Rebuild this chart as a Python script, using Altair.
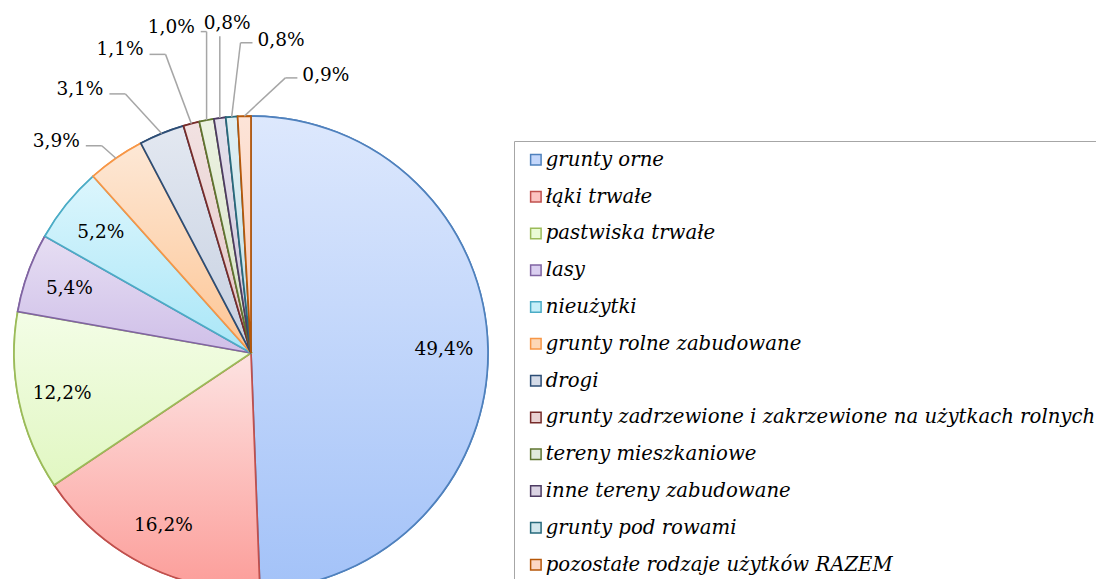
import math
import altair as alt
import pandas as pd
import numpy as np

# ---------------- data ----------------
categories = [
    "grunty orne",
    "łąki trwałe",
    "pastwiska trwałe",
    "lasy",
    "nieużytki",
    "grunty rolne zabudowane",
    "drogi",
    "grunty zadrzewione i zakrzewione na użytkach rolnych",
    "tereny mieszkaniowe",
    "inne tereny zabudowane",
    "grunty pod rowami",
    "pozostałe rodzaje użytków RAZEM",
]
shares = [49.4, 16.2, 12.2, 5.4, 5.2, 3.9, 3.1, 1.1, 1.0, 0.8, 0.8, 0.9]

edge_colors = ["#4F81BD", "#C0504D", "#9BBB59", "#8064A2", "#4BACC6", "#F79646",
               "#2C4D75", "#772C2A", "#5F7530", "#4D3B62", "#276A7C", "#B65708"]
fill_top = ["#dde8fd", "#fde3e2", "#f3fde6", "#e6def3", "#dcf6fd", "#fde8d6",
            "#e3e8f1", "#f2e2e2", "#ecf2e2", "#e5e1ec", "#e0eff3", "#fde4d8"]
fill_bottom = ["#a3c2f8", "#fc9d99", "#e1f7c2", "#cfbfe8", "#a9e6f7", "#fdc594",
               "#c6d0e1", "#e2c4c5", "#d6e2c5", "#cdc5d9", "#c3dfe7", "#fbcab2"]
fill_legend = ["#c4d7fb", "#fcc3c1", "#eafbd4", "#dacff0", "#c6eff9", "#fdd7b6",
               "#d4dbe8", "#ead3d3", "#e1eadb", "#dad3e3", "#d2e7ed", "#fcd7c5"]

# ---------------- layout constants ----------------
W, H = 1088, 571
CX, CY, R = 243, 345, 237
LABEL_FONT = "DejaVu Serif"
LABEL_SIZE = 18.5
INSIDE_R = 193
OUTSIDE_LIMIT = 5.0

labels = [f"{v:.1f}".replace(".", ",") + "%" for v in shares]
vals = np.array(shares, dtype=float)
ends = np.cumsum(vals)
starts = ends - vals
mids = (starts + ends) / 2.0
total = ends[-1]

slices = pd.DataFrame({"cat": categories, "start": starts, "end": ends})


def polar(angle_deg, r):
    a = math.radians(angle_deg)
    return r * math.sin(a), r * math.cos(a)  # y is "up"


def text_w(s):
    w = 0.0
    for ch in s:
        w += 0.636 if ch.isdigit() else (0.318 if ch == "," else 0.95)
    return w * LABEL_SIZE


# inside labels
ins = [i for i, v in enumerate(shares) if v >= OUTSIDE_LIMIT]
in_rows = []
for i in ins:
    x, y = polar(mids[i] / total * 360.0, INSIDE_R)
    in_rows.append({"t": labels[i], "lx": x, "ly": y})
inside_df = pd.DataFrame(in_rows)

# outside labels: fan them out around the group of small slices
outs = [i for i, v in enumerate(shares) if v < OUTSIDE_LIMIT]
n = len(outs)
mid_angles = [mids[i] / total * 360.0 for i in outs]
center_ang = float(np.mean(mid_angles))
step = 9.6
kmax = (n - 1) / 2.0
out_rows, lead_rows = [], []
for j, i in enumerate(outs):
    k = j - kmax
    ang = center_ang + k * step
    rr = R + 51 + 48 * (1 - (k / kmax) ** 2)
    lx, ly = polar(ang, rr)
    out_rows.append({"t": labels[i], "lx": lx, "ly": ly})
    px, py = polar(mid_angles[j], R)
    w = text_w(labels[i])
    if lx + w / 2 < px - 4:
        hx, hy = lx + w / 2 + 6, ly - 5
        ex = hx + min(16.0, max(0.0, px - hx))
        lead_rows += [{"x": hx, "y": hy, "x2": ex, "y2": hy},
                      {"x": ex, "y": hy, "x2": px, "y2": py}]
    elif lx - w / 2 > px + 4:
        hx, hy = lx - w / 2 - 5, ly - 3
        ex = hx - min(12.0, max(0.0, hx - px))
        lead_rows += [{"x": hx, "y": hy, "x2": ex, "y2": hy},
                      {"x": ex, "y": hy, "x2": px, "y2": py}]
    else:
        lead_rows += [{"x": px, "y": ly - 13, "x2": px, "y2": py}]
outside_df = pd.DataFrame(out_rows)
lead_df = pd.DataFrame(lead_rows)

xs = alt.Scale(domain=[-CX, W - CX], nice=False, zero=False)
ys = alt.Scale(domain=[CY - H, CY], nice=False, zero=False)
ts = alt.Scale(domain=[0, total])

legend = alt.Legend(
    orient="none", legendX=506, legendY=133, title=None,
    symbolType="square", symbolSize=110, symbolStrokeWidth=1.5,
    symbolOffset=3, labelOffset=0,
    labelFont="DejaVu Serif", labelFontStyle="italic", labelFontSize=19.7,
    labelColor="#000000", labelLimit=800, rowPadding=15.8, padding=9,
    strokeColor="#a6a6a6",
)

base = alt.Chart(slices).mark_arc(outerRadius=R, strokeWidth=1.5).encode(
    theta=alt.Theta("start:Q", scale=ts),
    theta2="end:Q",
    fill=alt.Fill("cat:N", sort=categories,
                  scale=alt.Scale(domain=categories, range=fill_legend), legend=legend),
    stroke=alt.Stroke("cat:N", sort=categories,
                      scale=alt.Scale(domain=categories, range=edge_colors), legend=legend),
    x=alt.value(CX), y=alt.value(CY),
)

layers = [base]
for c, top, bot, edge in zip(categories, fill_top, fill_bottom, edge_colors):
    grad = alt.Gradient(
        gradient="linear",
        stops=[alt.GradientStop(color=top, offset=0), alt.GradientStop(color=bot, offset=1)],
        x1=0, x2=0, y1=0, y2=1,
    )
    layers.append(
        alt.Chart(slices)
        .transform_filter(alt.FieldEqualPredicate(field="cat", equal=c))
        .mark_arc(outerRadius=R, fill=grad, stroke=edge, strokeWidth=1.75)
        .encode(theta=alt.Theta("start:Q", scale=ts), theta2="end:Q",
                x=alt.value(CX), y=alt.value(CY))
    )

leaders = alt.Chart(lead_df).mark_rule(color="#a6a6a6", strokeWidth=1.5).encode(
    x=alt.X("x:Q", scale=xs, axis=None),
    y=alt.Y("y:Q", scale=ys, axis=None),
    x2="x2:Q", y2="y2:Q",
)

text_in = alt.Chart(inside_df).mark_text(
    font=LABEL_FONT, fontSize=LABEL_SIZE, color="#000000", align="center", baseline="middle"
).encode(
    x=alt.X("lx:Q", scale=xs, axis=None),
    y=alt.Y("ly:Q", scale=ys, axis=None),
    text="t:N",
)
text_out = alt.Chart(outside_df).mark_text(
    font=LABEL_FONT, fontSize=LABEL_SIZE, color="#000000", align="center", baseline="middle"
).encode(
    x=alt.X("lx:Q", scale=xs, axis=None),
    y=alt.Y("ly:Q", scale=ys, axis=None),
    text="t:N",
)

chart = alt.layer(*layers, leaders, text_in, text_out).properties(
    width=W, height=H, autosize="none", padding=0, background="white"
).configure_view(stroke=None)

chart.save("out.html", embed_options={"renderer": "svg", "actions": False})
